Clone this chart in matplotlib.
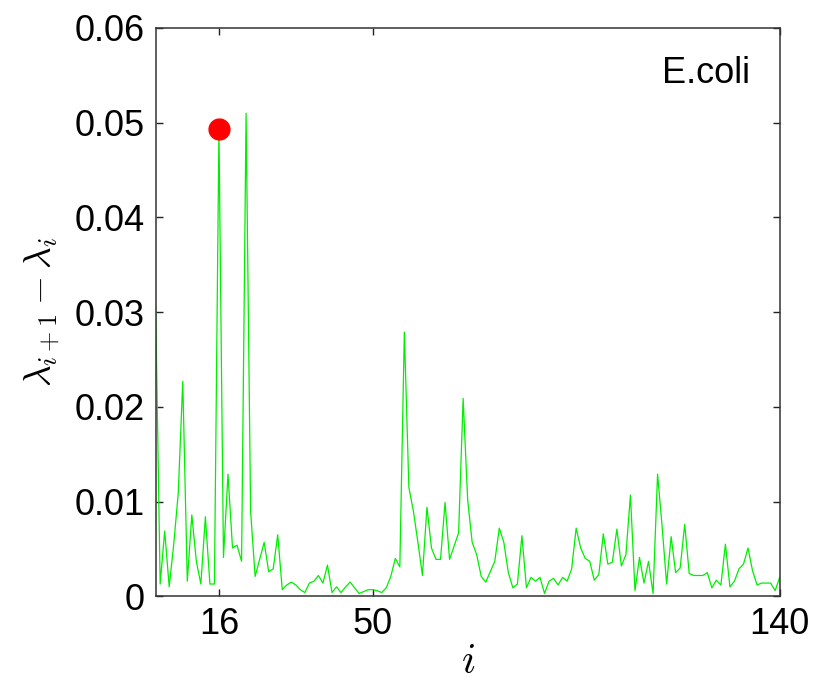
import numpy as np
import matplotlib.pyplot as plt

# eigenvalue gaps lambda_{i+1} - lambda_i, for i = 2..140
index = np.arange(2, 141)
gaps = [
    0.0306, 0.0013, 0.0069, 0.0010, 0.0055, 0.0109, 0.0227, 0.0016, 0.0086, 0.0037,
    0.0013, 0.0084, 0.0013, 0.0013, 0.0493, 0.0041, 0.0129, 0.0051, 0.0054, 0.0037,
    0.0510, 0.0090, 0.0021, 0.0039, 0.0057, 0.0026, 0.0029, 0.0065, 0.0007, 0.0012,
    0.0015, 0.0012, 0.0007, 0.0004, 0.0014, 0.0016, 0.0022, 0.0014, 0.0033, 0.0004,
    0.0010, 0.0004, 0.0010, 0.0015, 0.0009, 0.0003, 0.0005, 0.0007, 0.0007, 0.0006,
    0.0004, 0.0009, 0.0021, 0.0040, 0.0031, 0.0279, 0.0115, 0.0090, 0.0057, 0.0022,
    0.0094, 0.0051, 0.0039, 0.0039, 0.0099, 0.0039, 0.0053, 0.0067, 0.0209, 0.0102,
    0.0057, 0.0044, 0.0021, 0.0015, 0.0026, 0.0037, 0.0072, 0.0057, 0.0025, 0.0009,
    0.0013, 0.0064, 0.0009, 0.0020, 0.0016, 0.0020, 0.0003, 0.0016, 0.0019, 0.0012,
    0.0020, 0.0016, 0.0029, 0.0072, 0.0051, 0.0040, 0.0037, 0.0017, 0.0023, 0.0066,
    0.0034, 0.0036, 0.0071, 0.0032, 0.0044, 0.0107, 0.0006, 0.0041, 0.0014, 0.0037,
    0.0003, 0.0129, 0.0074, 0.0013, 0.0063, 0.0025, 0.0030, 0.0076, 0.0024, 0.0022,
    0.0022, 0.0022, 0.0025, 0.0009, 0.0017, 0.0012, 0.0055, 0.0010, 0.0016, 0.0029,
    0.0034, 0.0051, 0.0027, 0.0012, 0.0014, 0.0014, 0.0014, 0.0006, 0.0020,
]
chosen = 16  # number of clusters picked from the gap
xticks = [16, 50, 140]
yticks = [0, 0.01, 0.02, 0.03, 0.04, 0.05, 0.06]
ytick_labels = ["0", "0.01", "0.02", "0.03", "0.04", "0.05", "0.06"]

plt.rcParams["font.family"] = ["Liberation Sans", "DejaVu Sans"]
plt.rcParams["mathtext.fontset"] = "cm"

fig = plt.figure(figsize=(8.17, 6.91), dpi=100)
ax = fig.add_axes([0.1905, 0.137, 0.7638, 0.8225])

ax.plot(index, gaps, color="#00ee00", linewidth=0.9)
ax.plot(chosen, gaps[list(index).index(chosen)], "o", color="red",
        markersize=15, zorder=3)

ax.set_xlim(2, 140)
ax.set_ylim(0, 0.06)
ax.set_xticks(xticks)
ax.set_yticks(yticks)
ax.set_yticklabels(ytick_labels)
ax.tick_params(direction="in", length=5, width=1, top=True, right=True,
               labelsize=26, colors="#222222", labelcolor="black", pad=8)
for side in ax.spines.values():
    side.set_color("#333333")
    side.set_linewidth(1.1)

ax.set_xlabel("$i$", fontsize=30, labelpad=0)
ax.set_ylabel(r"$\lambda_{i+1}-\lambda_i$", fontsize=27)
ax.yaxis.set_label_coords(-0.15, 0.5)
ax.text(0.952, 0.92, "E.coli", transform=ax.transAxes, ha="right",
        va="center", fontsize=26)

fig.savefig("out.png", dpi=100)
